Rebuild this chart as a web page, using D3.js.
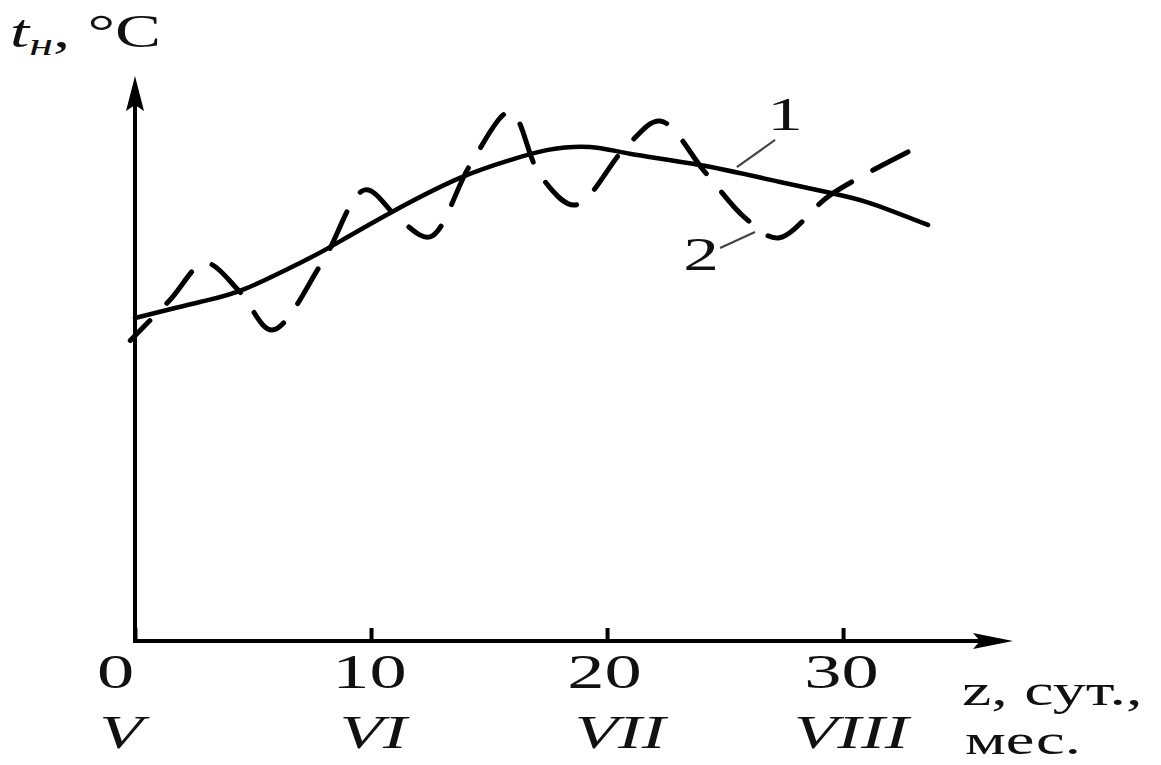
<!DOCTYPE html>
<html>
<head>
<meta charset="utf-8">
<script src="https://cdn.jsdelivr.net/npm/d3@7"></script>
<style>
  html, body { margin: 0; padding: 0; background: #fff; }
  svg { display: block; }
  text { font-family: "Liberation Serif", "DejaVu Serif", serif; fill: #111; }
</style>
</head>
<body>
<svg id="chart" width="1161" height="765"></svg>
<script>
// Curve 1: smooth seasonal course of outdoor temperature
const solidDays  = [0, 2.75, 4.66, 6.99, 8.26, 10.81, 13.77, 15.89, 17.50, 19.28, 21.02, 23.94, 27.33, 29.49, 31.14, 33.60];
const solidTemps = [14.29, 15.00, 15.58, 16.73, 17.43, 18.94, 20.49, 21.28, 21.73, 21.86, 21.55, 21.06, 20.31, 19.82, 19.38, 18.41];

// Curve 2: actual temperature fluctuating around the smooth course
const dashedDays  = [-0.2, 1.48, 2.97, 4.45, 5.80, 7.92, 9.75, 11.23, 12.50, 14.20, 15.90, 17.16, 18.64, 20.76, 22.25, 24.15, 25.85, 27.25, 29.45, 32.75];
const dashedTemps = [13.30, 15.09, 16.73, 15.44, 13.76, 16.73, 19.96, 18.63, 17.88, 21.06, 23.41, 20.62, 19.29, 21.81, 23.01, 20.75, 18.72, 17.83, 19.73, 21.64];

// Axis ticks: day numbers and the months beneath them
const dayTicks   = [0, 10, 20, 30];
const monthTicks = ["V", "VI", "VII", "VIII"];

// Curve labels with their leader lines (days, temperature)
const curveLabels = [
  { text: "1", x: 27.54, y: 22.60, from: [25.50, 20.97], to: [27.12, 22.17] },
  { text: "2", x: 23.98, y: 16.42, from: [24.79, 17.39], to: [26.27, 18.10] }
];

const svg = d3.select("#chart");
const STRETCH = 1.55;   // wide letterforms

const x = d3.scaleLinear().domain([0, 37.2]).range([135, 1013]);
const y = d3.scaleLinear().domain([0, 25]).range([641, 76]);

// ---- axes ----
const xAxis = d3.axisBottom(x)
  .tickValues(dayTicks)
  .tickSizeInner(-13)
  .tickSizeOuter(0)
  .tickFormat(d3.format("d"));

const gx = svg.append("g")
  .attr("transform", `translate(0,${y(0)})`)
  .call(xAxis);

gx.select(".domain").attr("stroke", "#000").attr("stroke-width", 4)
  .attr("d", `M${x(0) - 2},0H${x(37.2) - 30}`);
gx.selectAll(".tick line").attr("stroke", "#000").attr("stroke-width", 4);
gx.selectAll(".tick text")
  .attr("font-family", "Liberation Serif, serif")
  .attr("font-size", 48)
  .attr("fill", "#111")
  .attr("dy", null)
  .attr("y", 47)
  .attr("transform", d => `translate(${d === 0 ? -20 : (d === 20 ? -3 : -2)},0) scale(${STRETCH},1)`);

// y axis line
svg.append("line")
  .attr("x1", x(0)).attr("x2", x(0))
  .attr("y1", y(0) + 2).attr("y2", y(25) + 28)
  .attr("stroke", "#000").attr("stroke-width", 4);

// arrow heads
const yTip = [x(0), y(25)];
svg.append("path")
  .attr("d", `M${yTip[0]},${yTip[1]} L${yTip[0] + 9},${yTip[1] + 35} L${yTip[0]},${yTip[1] + 29} L${yTip[0] - 9},${yTip[1] + 35} Z`)
  .attr("fill", "#000");
const xTip = [x(37.2), y(0)];
svg.append("path")
  .attr("d", `M${xTip[0]},${xTip[1]} L${xTip[0] - 40},${xTip[1] - 8} L${xTip[0] - 33},${xTip[1]} L${xTip[0] - 40},${xTip[1] + 8} Z`)
  .attr("fill", "#000");

// month numerals under the day ticks
const monthShift = [-14, 2, 13, 8];
svg.append("g").selectAll("g")
  .data(monthTicks)
  .join("g")
  .attr("transform", (d, i) => `translate(${x(dayTicks[i]) + monthShift[i]},748) scale(${STRETCH},1)`)
  .append("text")
  .attr("text-anchor", "middle")
  .attr("font-size", 46)
  .attr("font-style", "italic")
  .text(d => d);

// axis titles
const yTitle = svg.append("g").attr("transform", `translate(10,47) scale(${STRETCH - 0.05},1)`)
  .append("text").attr("font-size", 46);
yTitle.append("tspan").attr("font-style", "italic").text("t");
yTitle.append("tspan").attr("font-style", "italic").attr("font-size", 32).attr("dy", 8).text("н");
yTitle.append("tspan").attr("dy", -8).text(", °C");

svg.append("g").attr("transform", `translate(962,705) scale(${STRETCH - 0.05},1)`)
  .append("text").attr("font-size", 44).text("z, сут.,");
svg.append("g").attr("transform", `translate(965,754) scale(${STRETCH - 0.05},1)`)
  .append("text").attr("font-size", 43).text("мес.");

// ---- curves ----
const solidLine = d3.line()
  .x(d => x(d[0]))
  .y(d => y(d[1]))
  .curve(d3.curveNatural);

const dashedLine = d3.line()
  .x(d => x(d[0]))
  .y(d => y(d[1]))
  .curve(d3.curveCatmullRom.alpha(0.5));

svg.append("path")
  .datum(solidDays.map((d, i) => [d, solidTemps[i]]))
  .attr("d", solidLine)
  .attr("fill", "none")
  .attr("stroke", "#000")
  .attr("stroke-width", 4.5)
  .attr("stroke-linecap", "round");

svg.append("path")
  .datum(dashedDays.map((d, i) => [d, dashedTemps[i]]))
  .attr("d", dashedLine)
  .attr("fill", "none")
  .attr("stroke", "#000")
  .attr("stroke-width", 5)
  .attr("stroke-linecap", "round")
  .attr("stroke-dasharray", "40,24")
  .attr("stroke-dashoffset", 12);

// ---- curve labels ----
const lbl = svg.append("g").selectAll("g").data(curveLabels).join("g");
lbl.append("line")
  .attr("x1", d => x(d.from[0])).attr("y1", d => y(d.from[1]))
  .attr("x2", d => x(d.to[0])).attr("y2", d => y(d.to[1]))
  .attr("stroke", "#444").attr("stroke-width", 2.2);
lbl.append("g")
  .attr("transform", d => `translate(${x(d.x)},${y(d.y)}) scale(${STRETCH},1)`)
  .append("text")
  .attr("text-anchor", "middle")
  .attr("font-size", 46)
  .text(d => d.text);
</script>
</body>
</html>
